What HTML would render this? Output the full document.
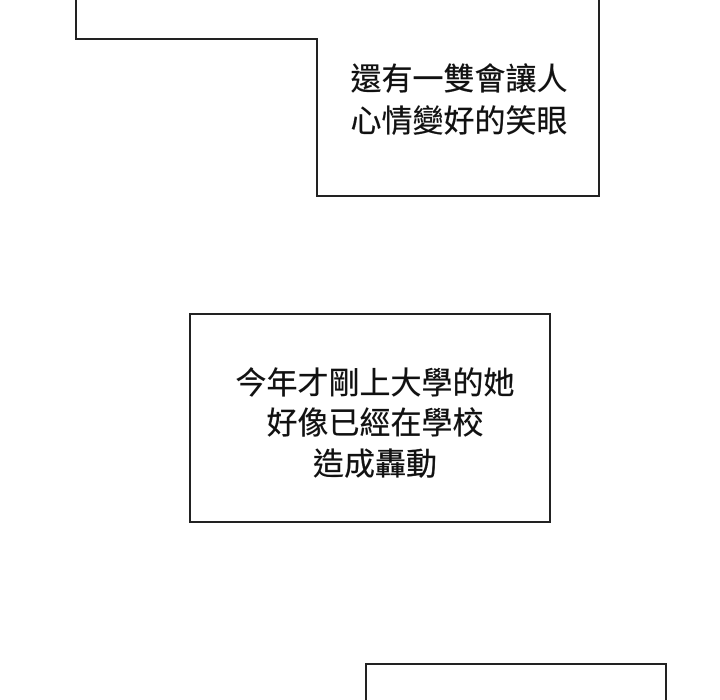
<!DOCTYPE html>
<html><head><meta charset="utf-8"><style>html,body{margin:0;padding:0;background:#fff}svg{display:block}</style></head>
<body>
<svg width="720" height="700" viewBox="0 0 720 700" xmlns="http://www.w3.org/2000/svg">
<rect width="720" height="700" fill="#fff"/>
<polyline points="76,0 76,39 317,39 317,196 599,196 599,0" fill="none" stroke="#222" stroke-width="2"/>
<rect x="190" y="314" width="360" height="208" fill="none" stroke="#222" stroke-width="2"/>
<rect x="366" y="664" width="300" height="60" fill="none" stroke="#222" stroke-width="2"/>
<g font-family="'Liberation Sans','Noto Sans CJK TC',sans-serif" font-size="31" fill="#111" text-anchor="middle" stroke="#111" stroke-width="0.3">
<text x="459" y="90">還有一雙會讓人</text>
<text x="459" y="132">心情變好的笑眼</text>
<text x="375" y="394">今年才剛上大學的她</text>
<text x="375" y="434">好像已經在學校</text>
<text x="375" y="475">造成轟動</text>
</g>
</svg>
</body></html>
